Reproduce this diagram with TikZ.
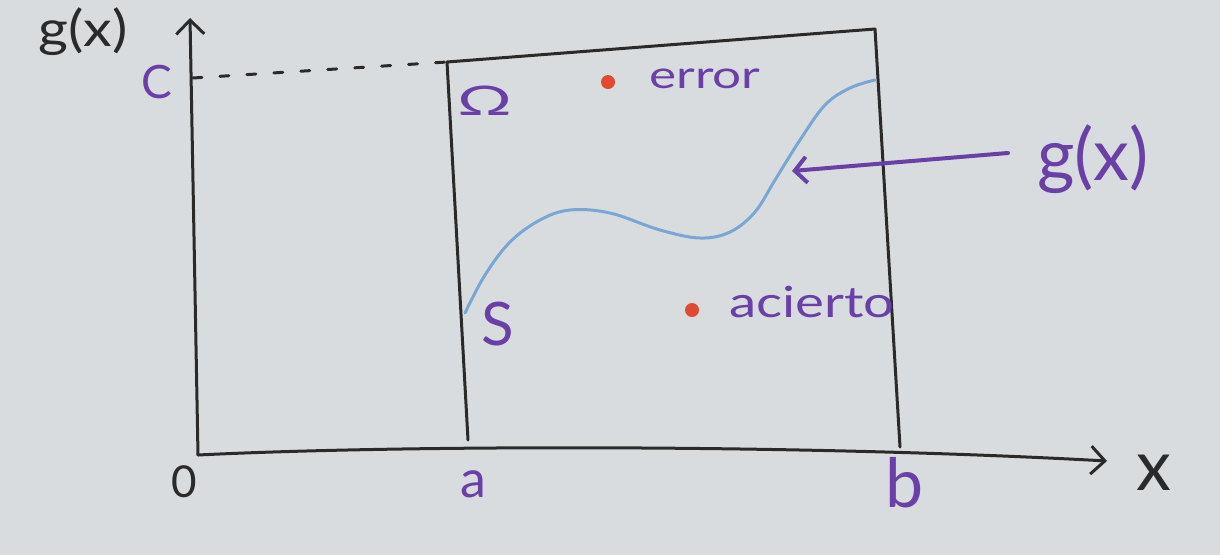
\documentclass[tikz,border=0pt]{standalone}
\usepackage{fontspec}
\setmainfont{Lato}
\usetikzlibrary{arrows.meta}
\definecolor{board}{HTML}{D9DCDE}
\definecolor{pen}{HTML}{2A2A2A}
\definecolor{purp}{HTML}{6A40A8}
\definecolor{blu}{HTML}{7AA6D4}
\definecolor{redd}{HTML}{E04A32}
\newcommand\hfs[1]{\fontsize{#1}{#1}\selectfont}
\begin{document}
\begin{tikzpicture}[x=1pt,y=-1pt,
  ink/.style={draw=pen,line width=3pt,line cap=round,line join=round},
  lbl/.style={inner sep=0pt,text=pen,anchor=base},
  plbl/.style={inner sep=0pt,text=purp,anchor=base},
  dot/.style={circle,fill=redd,inner sep=0pt,minimum size=14pt}]
\fill[board] (0,0) rectangle (1220,555);
\useasboundingbox (0,0) rectangle (1220,555);
% axes
\coordinate (O) at (198,455);
\coordinate (Ytop) at (190,18);
\coordinate (Xend) at (1107,461);
\coordinate (C) at (193,78);
\draw[ink,-{Straight Barb[length=14pt,width=28pt,line width=3pt]}] (O) -- (Ytop);
\draw[ink,-{Straight Barb[length=14pt,width=28pt,line width=3pt]}] (O) .. controls (400,445) and (800,444) .. (Xend);
% rectangle Omega
\coordinate (TL) at (447,62);
\coordinate (TR) at (875,29);
\coordinate (BR) at (900,447);
\coordinate (BL) at (468,440);
\draw[ink] (BL) -- (TL) -- (TR) -- (BR);
\draw[ink,dash pattern=on 9pt off 18pt] (C) -- (TL);
% curve g(x)
\draw[blu,line width=3pt,line cap=round] plot[smooth,tension=0.6] coordinates {
 (465,313) (485,275) (510,242) (540,220) (570,210) (610,213) (660,230) (700,238)
 (730,232) (755,212) (775,180) (800,140) (825,105) (850,88) (875,80)};
% labels
\node[lbl,xscale=1.15] (gy) at (83,46) {\hfs{50}g(x)};
\node[plbl] (lc) at (157,98) {\hfs{46}C};
\node[lbl] (l0) at (184,497) {\hfs{44}0};
\node[plbl] (la) at (473,497) {\hfs{52}a};
\node[plbl] (lb) at (905,507) {\hfs{68}b};
\node[lbl] (lx) at (1154,490) {\hfs{70}x};
\node[plbl,yscale=0.6] (lom) at (485,115) {\hfs{68}Ω};
\node[plbl] (ls) at (498,345) {\hfs{60}S};
\node[dot] (d1) at (608,82) {};
\node[plbl,xscale=1.35] (err) at (705,88) {\hfs{38}error};
\node[dot] (d2) at (692,310) {};
\node[plbl,xscale=1.27] (ac) at (812,317) {\hfs{43}acierto};
\node[plbl] (gx) at (1093,180) {\hfs{72}g(x)};
\coordinate (tail) at (1008,153);
\coordinate (tip) at (792,171);
\draw[purp,line width=4pt,line cap=round,-{Straight Barb[length=12pt,width=26pt,line width=4pt]}] (tail) -- (tip);
\end{tikzpicture}
\end{document}
